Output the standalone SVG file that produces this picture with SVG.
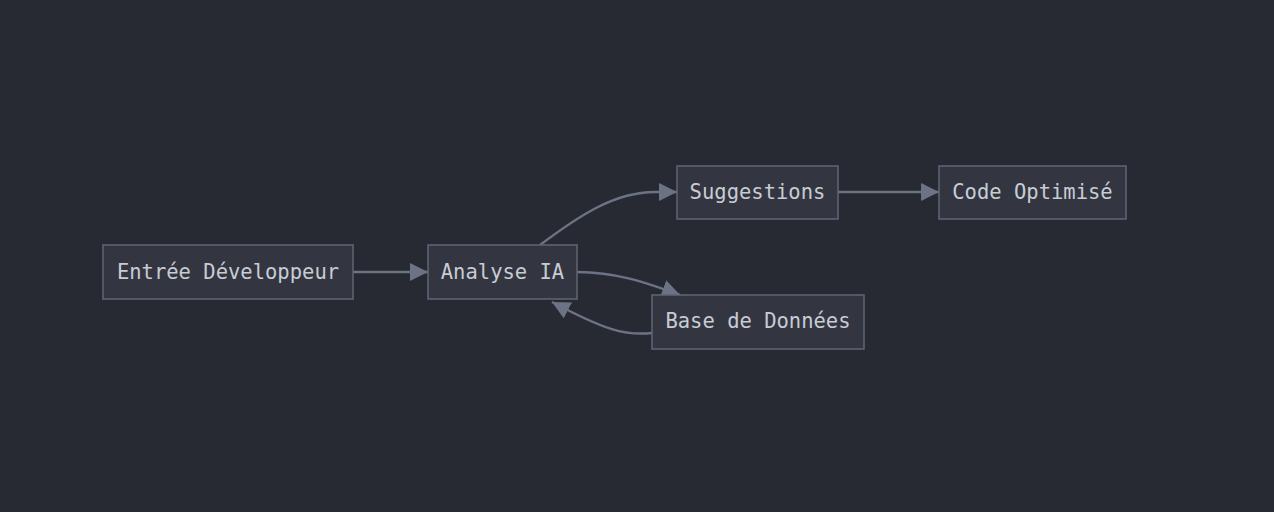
<svg xmlns="http://www.w3.org/2000/svg" width="1274" height="512" viewBox="0 0 1274 512">
<style>
.n{fill:#333640;stroke:#5f6677;stroke-width:1.5}
.t{fill:#c8ccd4;font-family:"DejaVu Sans Mono",monospace;font-size:20.5px;text-anchor:middle;dominant-baseline:central}
.e{fill:none;stroke:#6b7385;stroke-width:2.5}
</style>
<defs><marker id="a" markerUnits="userSpaceOnUse" markerWidth="20" markerHeight="20" refX="18" refY="9" orient="auto"><path d="M0,0L18,9L0,18z" fill="#6b7385"/></marker></defs>
<rect width="1274" height="512" fill="#282a33"/>
<g id="edges">
<path class="e" marker-end="url(#a)" d="M353,272L428,272"/>
<path class="e" marker-end="url(#a)" d="M540,245C580,215 615,192 655,192L677,192"/>
<path class="e" marker-end="url(#a)" d="M838,192L939,192"/>
<path class="e" marker-end="url(#a)" d="M577,272C615,272 645,282 680,295"/>
<path class="e" marker-end="url(#a)" d="M652,333C625,336 605,330 552,302"/>
</g>
<g id="A"><rect class="n" x="103" y="245" width="250" height="54"/><text class="t" x="228" y="272">Entrée Développeur</text></g>
<g id="B"><rect class="n" x="428" y="245" width="149" height="54"/><text class="t" x="502.5" y="272">Analyse IA</text></g>
<g id="C"><rect class="n" x="677" y="166" width="161" height="53"/><text class="t" x="757.5" y="192">Suggestions</text></g>
<g id="D"><rect class="n" x="939" y="166" width="187" height="53"/><text class="t" x="1032.5" y="192">Code Optimisé</text></g>
<g id="E"><rect class="n" x="652" y="295" width="212" height="54"/><text class="t" x="758" y="321">Base de Données</text></g>
</svg>
